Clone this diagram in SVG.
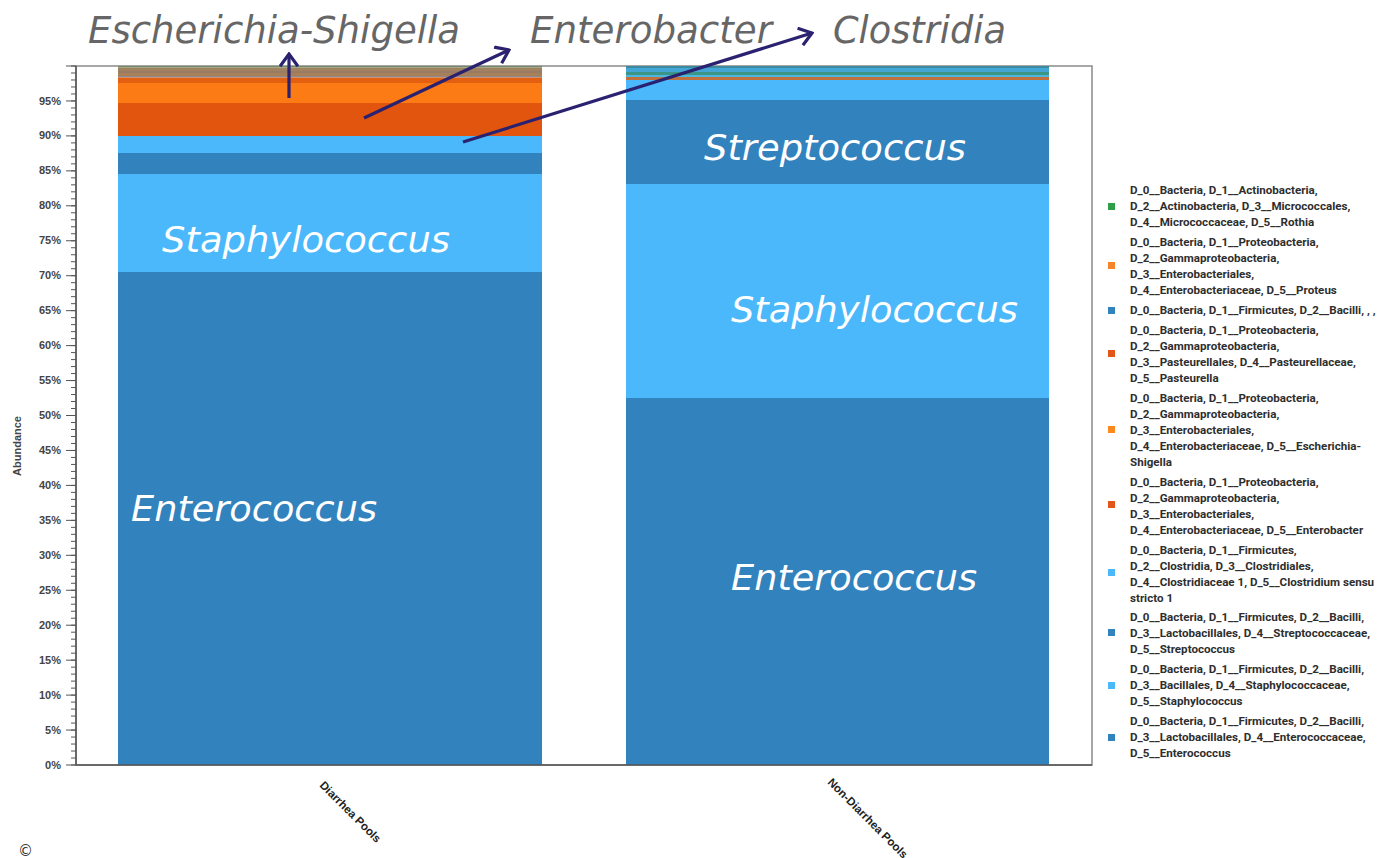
<svg xmlns="http://www.w3.org/2000/svg" width="1378" height="858" viewBox="0 0 1378 858">
<style>
.ttl{font-family:"DejaVu Sans",Verdana,sans-serif;font-style:italic;font-size:37px;fill:#666666}
.lbl{font-family:"DejaVu Sans",Verdana,sans-serif;font-style:italic;font-size:36px;fill:#ffffff}
.yl{font-family:"Liberation Sans",Arial,sans-serif;font-weight:bold;font-size:11px;fill:#444;text-anchor:end}
.lg{font-family:Roboto,"Liberation Sans",sans-serif;font-weight:bold;font-size:11.6px;fill:#2e2e2e}
.xl{font-family:"Liberation Sans",Arial,sans-serif;font-weight:bold;font-size:11.5px;fill:#222}
.arr{stroke:#2a2270;stroke-width:3.2;fill:none;marker-end:url(#head)}
</style>
<defs>
<marker id="head" viewBox="-14 -10 16 20" markerWidth="16" markerHeight="20" refX="0" refY="0" orient="auto" markerUnits="userSpaceOnUse">
<path d="M-11,-8 L0,0 L-11,8" fill="none" stroke="#2a2270" stroke-width="3.2" stroke-linecap="square"/>
</marker>
<pattern id="minor" patternUnits="userSpaceOnUse" x="71" y="65.5" width="5" height="6.99">
<rect x="0" y="0" width="5" height="1" fill="#555"/>
</pattern>
<pattern id="major" patternUnits="userSpaceOnUse" x="66" y="65.5" width="10" height="34.95">
<rect x="0" y="0" width="10" height="1" fill="#555"/>
</pattern>
</defs>
<rect x="0" y="0" width="1378" height="858" fill="#ffffff"/>

<g id="plot-frame">
<rect x="76" y="66" width="1016" height="699" fill="#ffffff" stroke="#8a8a8a" stroke-width="1.5"/>
</g>

<g id="bar-diarrhea">
<rect x="118" y="66" width="424" height="1.5" fill="#6f8a6a"/>
<rect x="118" y="67.5" width="424" height="3.5" fill="#a0835e"/>
<rect x="118" y="71" width="424" height="2" fill="#9a7c66"/>
<rect x="118" y="73" width="424" height="3" fill="#a88058"/>
<rect x="118" y="76" width="424" height="1.5" fill="#8b8a94"/>
<rect x="118" y="77.5" width="424" height="5.5" fill="#e2600f"/>
<rect x="118" y="83" width="424" height="20" fill="#fd7b14"/>
<rect x="118" y="103" width="424" height="33" fill="#e2550f"/>
<rect x="118" y="136" width="424" height="17" fill="#4ab8fb"/>
<rect x="118" y="153" width="424" height="21" fill="#3282bd"/>
<rect x="118" y="174" width="424" height="98" fill="#4ab8fb"/>
<rect x="118" y="272" width="424" height="493" fill="#3282bd"/>
</g>

<g id="bar-nondiarrhea">
<rect x="626" y="66" width="423" height="2" fill="#3a8aa0"/>
<rect x="626" y="68" width="423" height="4" fill="#44a6d6"/>
<rect x="626" y="72" width="423" height="3" fill="#3c9688"/>
<rect x="626" y="75" width="423" height="2" fill="#4ab8e0"/>
<rect x="626" y="77" width="423" height="3" fill="#c0703c"/>
<rect x="626" y="80" width="423" height="20" fill="#4ab8fb"/>
<rect x="626" y="100" width="423" height="84" fill="#3282bd"/>
<rect x="626" y="184" width="423" height="214" fill="#4ab8fb"/>
<rect x="626" y="398" width="423" height="367" fill="#3282bd"/>
</g>

<g id="y-axis">
<line x1="76" y1="66" x2="76" y2="765" stroke="#555" stroke-width="1.5"/>
<line x1="76" y1="765" x2="1092" y2="765" stroke="#555" stroke-width="1.5"/>
<rect x="71" y="65" width="5" height="701" fill="url(#minor)"/>
<rect x="66" y="65" width="10" height="701" fill="url(#major)"/>
<text class="yl" x="61" y="769">0%</text>
<text class="yl" x="61" y="734">5%</text>
<text class="yl" x="61" y="699">10%</text>
<text class="yl" x="61" y="664">15%</text>
<text class="yl" x="61" y="629">20%</text>
<text class="yl" x="61" y="594">25%</text>
<text class="yl" x="61" y="559">30%</text>
<text class="yl" x="61" y="524">35%</text>
<text class="yl" x="61" y="489">40%</text>
<text class="yl" x="61" y="454">45%</text>
<text class="yl" x="61" y="419">50%</text>
<text class="yl" x="61" y="384">55%</text>
<text class="yl" x="61" y="349">60%</text>
<text class="yl" x="61" y="314">65%</text>
<text class="yl" x="61" y="279">70%</text>
<text class="yl" x="61" y="244">75%</text>
<text class="yl" x="61" y="209">80%</text>
<text class="yl" x="61" y="174">85%</text>
<text class="yl" x="61" y="139">90%</text>
<text class="yl" x="61" y="105">95%</text>
<text class="yl" x="21" y="416" text-anchor="middle" transform="rotate(-90 21 416)" font-size="10">Abundance</text>
</g>

<g id="x-labels">
<text class="xl" x="319" y="786" transform="rotate(45 319 786)">Diarrhea Pools</text>
<text class="xl" x="827" y="783" transform="rotate(45 827 783)">Non-Diarrhea Pools</text>
</g>

<g id="bar-labels">
<text class="lbl" x="704" y="160" textLength="262" lengthAdjust="spacingAndGlyphs">Streptococcus</text>
<text class="lbl" x="162" y="252" textLength="288" lengthAdjust="spacingAndGlyphs">Staphylococcus</text>
<text class="lbl" x="731" y="322" textLength="287" lengthAdjust="spacingAndGlyphs">Staphylococcus</text>
<text class="lbl" x="131" y="521" textLength="246" lengthAdjust="spacingAndGlyphs">Enterococcus</text>
<text class="lbl" x="731" y="590" textLength="246" lengthAdjust="spacingAndGlyphs">Enterococcus</text>
</g>

<g id="titles">
<text class="ttl" x="88" y="43" textLength="372" lengthAdjust="spacingAndGlyphs">Escherichia-Shigella</text>
<text class="ttl" x="530" y="43" textLength="242" lengthAdjust="spacingAndGlyphs">Enterobacter</text>
<text class="ttl" x="833" y="43" textLength="173" lengthAdjust="spacingAndGlyphs">Clostridia</text>
</g>

<g id="connectors">
<path class="arr" d="M289,98 L289,54"/>
<path class="arr" d="M364,118 L509,50"/>
<path class="arr" d="M463,142 L812,33"/>
</g>

<g id="legend">
<rect x="1108" y="203" width="7" height="7" fill="#2e9e48"/>
<text class="lg" x="1130" y="194">D_0__Bacteria, D_1__Actinobacteria,</text>
<text class="lg" x="1130" y="210">D_2__Actinobacteria, D_3__Micrococcales,</text>
<text class="lg" x="1130" y="226">D_4__Micrococcaceae, D_5__Rothia</text>

<rect x="1108" y="262" width="7" height="7" fill="#f5842a"/>
<text class="lg" x="1130" y="246">D_0__Bacteria, D_1__Proteobacteria,</text>
<text class="lg" x="1130" y="262">D_2__Gammaproteobacteria,</text>
<text class="lg" x="1130" y="278">D_3__Enterobacteriales,</text>
<text class="lg" x="1130" y="294">D_4__Enterobacteriaceae, D_5__Proteus</text>

<rect x="1108" y="307" width="7" height="7" fill="#3282bd"/>
<text class="lg" x="1130" y="314">D_0__Bacteria, D_1__Firmicutes, D_2__Bacilli, , ,</text>

<rect x="1108" y="350" width="7" height="7" fill="#e2561a"/>
<text class="lg" x="1130" y="334">D_0__Bacteria, D_1__Proteobacteria,</text>
<text class="lg" x="1130" y="350">D_2__Gammaproteobacteria,</text>
<text class="lg" x="1130" y="366">D_3__Pasteurellales, D_4__Pasteurellaceae,</text>
<text class="lg" x="1130" y="382">D_5__Pasteurella</text>

<rect x="1108" y="426" width="7" height="7" fill="#fd8a1f"/>
<text class="lg" x="1130" y="402">D_0__Bacteria, D_1__Proteobacteria,</text>
<text class="lg" x="1130" y="418">D_2__Gammaproteobacteria,</text>
<text class="lg" x="1130" y="434">D_3__Enterobacteriales,</text>
<text class="lg" x="1130" y="450">D_4__Enterobacteriaceae, D_5__Escherichia-</text>
<text class="lg" x="1130" y="466">Shigella</text>

<rect x="1108" y="501" width="7" height="7" fill="#e2561a"/>
<text class="lg" x="1130" y="486">D_0__Bacteria, D_1__Proteobacteria,</text>
<text class="lg" x="1130" y="502">D_2__Gammaproteobacteria,</text>
<text class="lg" x="1130" y="518">D_3__Enterobacteriales,</text>
<text class="lg" x="1130" y="534">D_4__Enterobacteriaceae, D_5__Enterobacter</text>

<rect x="1108" y="569" width="7" height="7" fill="#4ab8fb"/>
<text class="lg" x="1130" y="554">D_0__Bacteria, D_1__Firmicutes,</text>
<text class="lg" x="1130" y="570">D_2__Clostridia, D_3__Clostridiales,</text>
<text class="lg" x="1130" y="586">D_4__Clostridiaceae 1, D_5__Clostridium sensu</text>
<text class="lg" x="1130" y="602">stricto 1</text>

<rect x="1108" y="629" width="7" height="7" fill="#3282bd"/>
<text class="lg" x="1130" y="621">D_0__Bacteria, D_1__Firmicutes, D_2__Bacilli,</text>
<text class="lg" x="1130" y="637">D_3__Lactobacillales, D_4__Streptococcaceae,</text>
<text class="lg" x="1130" y="653">D_5__Streptococcus</text>

<rect x="1108" y="682" width="7" height="7" fill="#4ab8fb"/>
<text class="lg" x="1130" y="673">D_0__Bacteria, D_1__Firmicutes, D_2__Bacilli,</text>
<text class="lg" x="1130" y="689">D_3__Bacillales, D_4__Staphylococcaceae,</text>
<text class="lg" x="1130" y="705">D_5__Staphylococcus</text>

<rect x="1108" y="734" width="7" height="7" fill="#3282bd"/>
<text class="lg" x="1130" y="725">D_0__Bacteria, D_1__Firmicutes, D_2__Bacilli,</text>
<text class="lg" x="1130" y="741">D_3__Lactobacillales, D_4__Enterococcaceae,</text>
<text class="lg" x="1130" y="757">D_5__Enterococcus</text>
</g>

<text x="18" y="856" font-family="DejaVu Sans,sans-serif" font-size="15" fill="#333">©</text>
</svg>
